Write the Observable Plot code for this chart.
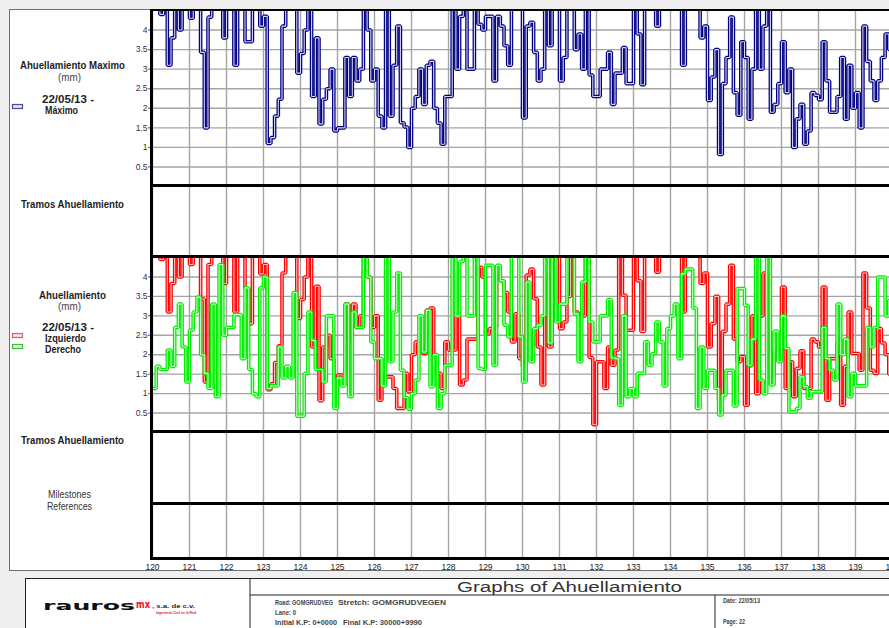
<!DOCTYPE html>
<html><head><meta charset="utf-8">
<script src="https://cdn.jsdelivr.net/npm/d3@7"></script>
<script src="https://cdn.jsdelivr.net/npm/@observablehq/plot@0.6"></script>
<style>
html,body{margin:0;padding:0;background:#efefef;overflow:hidden;width:889px;height:628px;}
#page{position:relative;width:889px;height:628px;overflow:hidden;font-family:"Liberation Sans",Arial,sans-serif;}
.abs{position:absolute;}
.frame{left:9px;top:9px;width:900px;height:560px;background:#fff;border:1px solid #707070;border-right:none;}
.bar{background:#000;}
#footer{left:25px;top:578px;width:880px;height:60px;background:#fff;border:1px solid #222;border-right:none;}
svg.plot{position:absolute;left:0;}
</style></head>
<body><div id="page">
<div class="abs frame"></div>
<div class="abs" id="footer"></div>
</div>
<script>
// ---- data ----
const kmStart = 120;
const kmStep = 0.1;
const kmTicks = [120,121,122,123,124,125,126,127,128,129,130,131,132,133,134,135,136,137,138,139,140];
const yTicks = [0.5,1,1.5,2,2.5,3,3.5,4];

// Ahuellamiento Maximo (mm), values above 4.5 run off the top of the panel
const maxVals = [
4.8,4.8,4.4,4.8,3.1,3.8,4.8,4.0,4.8,4.8, 4.3,4.8,4.8,3.43,1.5,4.33,4.8,4.8,4.8,3.8,
4.8,4.8,3.1,4.8,4.8,3.7,3.7,4.8,4.8,4.1, 4.35,1.1,1.25,1.8,2.23,4.1,4.8,4.8,4.8,2.9,
3.4,4.0,4.8,2.3,3.8,1.6,2.23,2.5,3.0,1.42, 1.5,1.5,3.3,2.3,3.3,2.7,3.0,4.8,4.0,2.7,
3.0,1.8,1.5,4.8,1.8,3.1,4.1,1.63,1.52,1.0, 2.0,2.3,3.0,2.1,3.1,3.2,2.0,1.62,1.08,2.3,
2.3,4.8,3.0,4.35,4.8,3.0,3.0,4.8,4.15,4.0, 4.35,4.35,2.7,4.35,4.1,3.6,3.1,4.8,4.8,4.8,
1.75,4.1,4.2,3.43,2.7,3.0,4.8,3.6,4.8,4.8, 2.7,3.3,4.8,4.8,3.5,3.9,3.0,4.8,2.85,2.3,
2.3,3.0,3.0,3.43,2.1,2.9,2.9,3.55,2.63,2.63, 4.8,3.9,2.6,4.8,4.8,4.8,4.1,4.8,4.8,4.8,
4.8,4.8,4.8,3.1,4.8,4.8,4.8,4.8,3.8,4.1, 2.2,2.8,3.5,0.82,2.63,3.3,4.33,2.4,1.82,3.7,
3.3,1.72,3.0,4.8,3.0,4.1,4.8,1.9,2.1,2.63, 3.7,2.4,3.0,1.0,1.73,2.1,1.08,1.42,2.4,2.33,
2.22,3.7,2.7,1.9,1.9,2.3,3.3,1.72,3.1,2.0, 2.4,1.5,4.1,3.2,2.7,2.2,2.7,3.3,3.9,3.5
];
// Izquierdo
const izqVals = [
4.8,4.8,4.45,4.8,3.1,3.83,4.8,4.0,4.8,4.8, 4.32,4.8,4.8,3.43,1.3,4.32,4.8,4.8,4.8,3.83,
4.8,4.8,3.1,4.8,4.8,3.7,2.8,4.8,4.8,4.08, 4.32,1.1,1.25,1.8,2.23,4.1,4.8,4.8,4.8,2.93,
3.42,4.0,4.8,2.2,3.76,0.82,2.2,2.5,1.9,1.4, 1.48,1.48,3.3,2.36,3.3,2.7,3.0,4.8,4.0,2.7,
3.0,0.83,1.48,1.43,1.43,1.13,0.62,0.62,1.52,1.05, 2.0,2.33,2.33,2.03,3.15,3.2,1.52,1.52,1.13,2.33,
2.12,2.12,2.97,1.22,1.35,2.4,2.4,2.4,4.25,4.0, 2.54,2.67,2.7,4.08,3.9,3.6,3.1,2.33,3.05,1.9,
1.7,4.05,4.2,3.44,2.2,1.22,4.0,2.2,4.8,4.8, 2.67,2.84,3.5,4.8,3.1,3.0,3.0,4.8,1.93,0.2,
1.82,1.82,1.13,2.2,1.73,2.12,4.8,3.53,2.63,2.63, 4.8,3.9,2.6,4.8,4.8,4.8,4.12,4.8,4.8,4.8,
4.8,4.8,4.8,3.1,4.8,4.8,4.8,4.8,3.83,4.1, 2.2,2.8,3.5,0.83,2.6,3.3,4.3,2.4,1.82,1.95,
0.7,1.72,3.0,1.0,3.0,4.1,2.1,1.43,2.1,2.1, 3.74,1.13,1.82,0.92,1.65,2.1,1.13,1.13,2.4,2.33,
2.2,3.74,0.83,1.9,1.9,2.33,0.7,1.7,3.1,2.03, 2.03,1.6,4.1,3.2,1.6,1.52,2.67,2.3,2.0,1.5
];
// Derecho
const derVals = [
1.13,1.7,1.62,1.62,2.12,1.7,2.7,3.3,2.2,1.3, 2.63,3.1,3.48,2.0,1.52,1.13,3.3,0.92,4.32,2.5,
2.7,2.7,3.03,3.03,1.9,3.72,1.62,1.0,0.92,3.72, 4.0,1.13,1.2,1.2,2.2,1.4,1.7,1.4,3.6,0.42,
0.42,1.52,3.1,2.37,1.62,1.62,1.3,3.0,3.0,0.62, 1.4,1.2,3.3,0.92,3.1,2.7,2.7,4.8,4.0,2.33,
1.9,1.9,1.2,4.8,1.82,3.1,4.1,1.6,0.9,0.6, 1.0,1.35,3.0,2.07,3.14,1.18,2.0,0.62,1.0,1.73,
1.73,4.8,3.0,4.4,4.8,3.0,3.0,4.8,1.65,1.62, 4.3,4.3,1.73,4.3,3.9,2.76,2.46,4.8,4.8,2.46,
1.3,3.87,1.82,2.67,2.76,3.0,4.8,2.3,4.8,2.84, 3.3,3.3,4.8,4.8,3.05,1.82,3.87,4.8,2.84,2.33,
2.33,3.0,3.0,3.42,1.92,1.9,0.7,3.0,0.92,1.13, 0.92,1.52,1.52,2.33,1.73,2.03,2.84,2.33,1.2,2.67,
3.0,3.3,1.9,4.08,4.2,4.2,3.2,0.62,2.2,1.13, 1.6,1.6,1.13,0.45,0.96,1.6,1.6,0.68,3.7,3.7,
3.27,1.73,2.4,4.8,1.35,1.0,4.8,1.22,2.6,1.82, 3.0,2.16,0.53,0.53,0.62,1.43,1.18,0.88,1.05,1.05,
1.05,2.7,1.9,1.6,1.35,3.3,2.0,2.4,0.92,1.52, 1.2,1.2,1.2,2.7,2.2,2.7,4.0,4.0,3.0,3.4
];

function rows(vals) {
  const r = vals.map((v, i) => ({km: kmStart + i * kmStep, v}));
  r.push({km: kmStart + vals.length * kmStep, v: vals[vals.length - 1]});
  return r;
}

const page = document.getElementById("page");
const GRID = "#a4a4a4";

function panel(top, h, series, opts = {}) {
  const marks = [Plot.gridX(kmTicks, {stroke: GRID, strokeOpacity: 1, strokeWidth: 1.4})];
  if (opts.yAxis) {
    marks.push(Plot.gridY(yTicks, {stroke: GRID, strokeOpacity: 1, strokeWidth: 1.4}));
    marks.push(Plot.axisY(yTicks, {anchor: "left", tickSize: 4, tickPadding: 1, fontSize: 8.5, color: "#333", stroke: "#555", label: null, tickFormat: d => String(d)}));
  }
  for (const s of series) {
    const d = rows(s.vals);
    marks.push(Plot.line(d, {x: "km", y: "v", curve: "step-after", stroke: s.color, strokeWidth: 3.6, strokeLinejoin: "miter", strokeLinecap: "butt", clip: true}));
    marks.push(Plot.line(d, {x: "km", y: "v", curve: "step-after", stroke: s.inner, strokeWidth: 1.1, strokeLinejoin: "miter", strokeLinecap: "butt", clip: true}));
  }
  const mb = opts.xAxis ? 16 : 0;
  if (opts.xAxis) {
    marks.push(Plot.axisX(kmTicks, {anchor: "bottom", tickSize: 0, tickPadding: 4, fontSize: 8.5, color: "#222", label: null, tickFormat: d => String(d)}));
  }
  const svg = Plot.plot({
    width: 892, height: h + mb,
    marginLeft: 152, marginRight: 0, marginTop: 0, marginBottom: mb,
    x: {domain: [120, 140], axis: null, label: null},
    y: {domain: [0, 4.5], axis: null, label: null},
    style: {background: "transparent", maxWidth: "none", fontFamily: "'Liberation Sans', Arial, sans-serif"},
    marks
  });
  svg.style.position = "absolute";
  svg.style.left = "0px";
  svg.style.top = top + "px";
  page.appendChild(svg);
}

panel(10, 176, [{vals: maxVals, color: "#000080", inner: "#d6d6f2"}], {yAxis: true});
panel(186, 71, []);
panel(257, 175, [
  {vals: izqVals, color: "#ff0000", inner: "#ffc4c4"},
  {vals: derVals, color: "#00ee00", inner: "#c6ffc6"}
], {yAxis: true});
panel(432, 72, []);
panel(504, 55, [], {xAxis: true});

// panel borders
function bar(x, y, w, h) {
  const d = document.createElement("div");
  d.className = "abs bar";
  Object.assign(d.style, {left: x + "px", top: y + "px", width: w + "px", height: h + "px"});
  page.appendChild(d);
}
bar(151, 9, 760, 2);
bar(152, 184, 760, 3);
bar(152, 255, 760, 3);
bar(152, 430, 760, 3);
bar(150, 502, 760, 3);
bar(151, 557, 760, 3);
bar(150, 9, 3, 551);

// labels + footer overlay
const ns = "http://www.w3.org/2000/svg";
const ov = document.createElementNS(ns, "svg");
ov.setAttribute("width", 889); ov.setAttribute("height", 628);
Object.assign(ov.style, {position: "absolute", left: "0px", top: "0px", pointerEvents: "none"});
page.appendChild(ov);
function txt(s, x, y, o = {}) {
  const t = document.createElementNS(ns, "text");
  t.textContent = s;
  t.setAttribute("x", x); t.setAttribute("y", y);
  t.setAttribute("font-family", o.family || "'Liberation Sans', Arial, sans-serif");
  t.setAttribute("font-size", o.size || 10);
  t.setAttribute("font-weight", o.weight || "bold");
  t.setAttribute("fill", o.fill || "#1e1e1e");
  t.setAttribute("dominant-baseline", "central");
  if (o.len) { t.setAttribute("textLength", o.len); t.setAttribute("lengthAdjust", "spacingAndGlyphs"); }
  if (o.anchor) t.setAttribute("text-anchor", o.anchor);
  ov.appendChild(t);
  return t;
}
function rect(x, y, w, h, stroke, fill, sw = 1) {
  const r = document.createElementNS(ns, "rect");
  r.setAttribute("x", x); r.setAttribute("y", y); r.setAttribute("width", w); r.setAttribute("height", h);
  r.setAttribute("fill", fill); r.setAttribute("stroke", stroke); r.setAttribute("stroke-width", sw);
  ov.appendChild(r);
}
function line(x1, y1, x2, y2, stroke = "#222", sw = 1) {
  const l = document.createElementNS(ns, "line");
  l.setAttribute("x1", x1); l.setAttribute("y1", y1); l.setAttribute("x2", x2); l.setAttribute("y2", y2);
  l.setAttribute("stroke", stroke); l.setAttribute("stroke-width", sw);
  ov.appendChild(l);
}

// panel 1 labels
txt("Ahuellamiento Maximo", 20, 65, {len: 105});
txt("(mm)", 58, 77, {weight: "normal", fill: "#444", len: 23});
txt("22/05/13 -", 42, 99, {len: 52});
txt("Máximo", 45, 110, {len: 33});
rect(12.5, 104.5, 10, 4, "#4a4a9a", "#e4e4f6", 1.2);
// tramos
txt("Tramos Ahuellamiento", 21, 204, {len: 103});
// panel 2 labels
txt("Ahuellamiento", 39, 295, {len: 67});
txt("(mm)", 58, 306, {weight: "normal", fill: "#444", len: 23});
txt("22/05/13 -", 42, 327, {len: 52});
txt("Izquierdo", 45, 338, {len: 41});
txt("Derecho", 45, 349, {len: 36});
rect(12.5, 333.5, 10, 4, "#e06060", "#fbe0e0", 1.2);
rect(12.5, 344.5, 10, 4, "#40c040", "#dcf8dc", 1.2);
txt("Tramos Ahuellamiento", 21, 440, {len: 103});
txt("Milestones", 48, 494, {weight: "normal", fill: "#333", len: 43});
txt("References", 47, 506, {weight: "normal", fill: "#333", len: 45});

// footer
line(250, 578, 250, 640, "#222", 1);
line(250, 595, 900, 595, "#222", 1);
line(715, 595, 715, 640, "#222", 1);
txt("Graphs of Ahuellamiento", 457, 587, {size: 14, weight: "normal", fill: "#333", len: 225});
txt("Road: GOMGRUDVEG", 275, 602, {size: 6.5, fill: "#444", len: 58});
txt("Stretch: GOMGRUDVEGEN", 338, 602, {size: 6.5, fill: "#444", len: 108});
txt("Lane: 0", 275, 612, {size: 6.5, fill: "#444", len: 21});
txt("Initial K.P: 0+0000", 275, 622, {size: 6.5, fill: "#444", len: 62});
txt("Final K.P: 30000+9990", 343, 622, {size: 6.5, fill: "#444", len: 79});
txt("Date: 22/05/13", 723, 600, {size: 6.5, fill: "#444", len: 37});
txt("Page: 22", 723, 621, {size: 6.5, fill: "#444", len: 22});
// logo
txt("rauros", 43, 606, {size: 12, weight: "900", fill: "#111", len: 92, family: "'DejaVu Sans', sans-serif"});
txt("mx", 136, 604, {size: 11, weight: "900", fill: "#e11", len: 14, family: "'DejaVu Sans', sans-serif"});
txt(", s.a. de c.v.", 152, 606, {size: 5.5, fill: "#222", len: 43});
txt("Ingeniería Civil en la Red", 156, 612.5, {size: 3.8, fill: "#d22", len: 40});
</script>
</body></html>
